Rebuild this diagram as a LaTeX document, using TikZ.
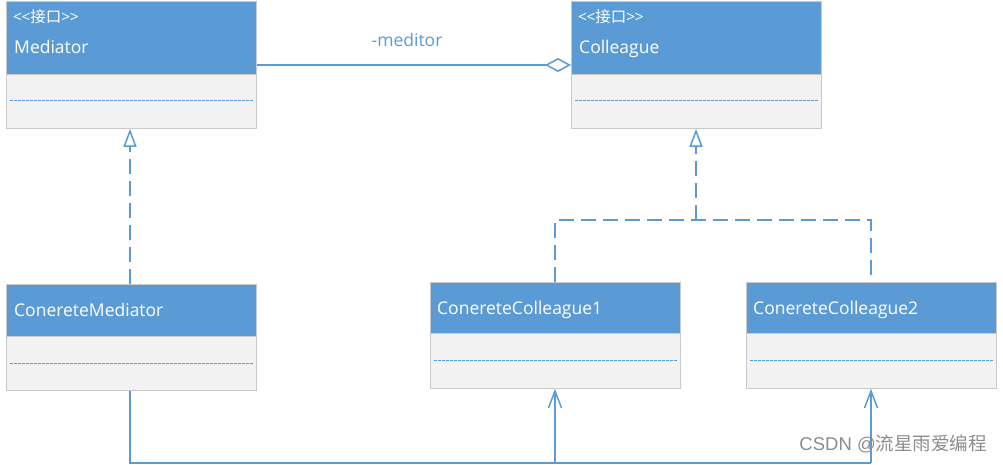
\documentclass[tikz,border=0pt]{standalone}
\usepackage{fontspec}
\setmainfont{Open Sans}[Ligatures=NoCommon]
\newfontfamily\cjk{Noto Sans CJK SC}
\newfontfamily\wm{Liberation Sans}
\usetikzlibrary{arrows.meta}
\definecolor{umlblue}{HTML}{5B9BD5}
\definecolor{bodygray}{HTML}{F2F2F2}
\definecolor{boxgray}{HTML}{C9C9C9}
\definecolor{wmgray}{HTML}{8C8C8C}
\tikzset{
  hdr/.style={draw=boxgray, fill=umlblue, minimum width=250pt, anchor=north west, inner sep=0pt, line width=0.8pt},
  bodybox/.style={draw=boxgray, fill=bodygray, minimum width=250pt, minimum height=54pt, anchor=north west, inner sep=0pt, line width=0.8pt},
  ttl/.style={anchor=base west, inner sep=0pt, text=white, font=\fontsize{17.5}{20}\selectfont},
  stereo/.style={anchor=base west, inner sep=0pt, text=white, font=\fontsize{15.5}{17}\selectfont},
  sep/.style={draw=umlblue, line width=1pt, dash pattern=on 2.5pt off 1.5pt},
  conn/.style={draw=umlblue, line width=1.5pt},
  dconn/.style={conn, dash pattern=on 15pt off 7pt},
  realize/.style={-{Triangle[open,length=18pt,width=13pt]}},
  navig/.style={-{Straight Barb[length=17pt,width=13pt]}},
}
\newcommand{\stlt}{{<}\kern-0.5pt{<}}
\newcommand{\stgt}{{>}\kern-0.5pt{>}}
\begin{document}
\begin{tikzpicture}[x=1pt,y=-1pt]
\useasboundingbox (0,0) rectangle (1003,465);
% Mediator
\node[hdr, minimum height=73pt] (medH) at (6,1) {};
\node[bodybox] (med) at (6,74) {};
\node[stereo] (medS) at (13,23) {\stlt{\cjk 接口}\stgt};
\node[ttl] (medT) at (14,54) {Mediator};
\draw[sep] ([xshift=4pt,yshift=-27pt]med.north west) -- ([xshift=-4pt,yshift=-27pt]med.north east);
% Colleague
\node[hdr, minimum height=73pt] (colH) at (571,1) {};
\node[bodybox] (col) at (571,74) {};
\node[stereo] (colS) at (578,23) {\stlt{\cjk 接口}\stgt};
\node[ttl] (colT) at (579,54) {Colleague};
\draw[sep] ([xshift=4pt,yshift=-27pt]col.north west) -- ([xshift=-4pt,yshift=-27pt]col.north east);
% ConereteMediator
\node[hdr, minimum height=52pt] (cmH) at (6,284) {};
\node[bodybox] (cm) at (6,336) {};
\node[ttl] (cmT) at (14,316) {ConereteMediator};
\draw[sep] ([xshift=4pt,yshift=-27pt]cm.north west) -- ([xshift=-4pt,yshift=-27pt]cm.north east);
% ConereteColleague1
\node[hdr, minimum height=51pt] (c1H) at (430,282) {};
\node[bodybox, minimum height=55pt] (c1) at (430,333) {};
\node[ttl] (c1T) at (437,314) {ConereteColleague1};
\draw[sep] ([xshift=4pt,yshift=-27pt]c1.north west) -- ([xshift=-4pt,yshift=-27pt]c1.north east);
% ConereteColleague2
\node[hdr, minimum height=51pt] (c2H) at (746,282) {};
\node[bodybox, minimum height=55pt] (c2) at (746,333) {};
\node[ttl] (c2T) at (753,314) {ConereteColleague2};
\draw[sep] ([xshift=4pt,yshift=-27pt]c2.north west) -- ([xshift=-4pt,yshift=-27pt]c2.north east);
% association
\draw[conn, -{Diamond[open,length=26pt,width=14pt]}] (medH.east |- 0,65) -- (colH.west |- 0,65);
\node[anchor=base, inner sep=0pt, text=umlblue, font=\fontsize{17.5}{20}\selectfont] (lbl) at (407,47) {-meditor};
% realization Mediator
\draw[dconn, realize] (cmH.north -| 130,0) -- (med.south -| 130,0);
% realization Colleagues
\coordinate (jn) at (696,220);
\draw[dconn, realize] (jn) -- (col.south -| jn);
\draw[dconn] (c1H.north -| 555,0) -- (555,220) -- (871,220) -- (c2H.north -| 871,0);
% navigation
\coordinate (b1) at (130,463);
\coordinate (b2) at (555,463);
\coordinate (b3) at (871,463);
\draw[conn] (cm.south -| b1) -- (b1) -- (b3);
\draw[conn, navig] (b2) -- (c1.south -| b2);
\draw[conn, navig] (b3) -- (c2.south -| b3);
% watermark
\node[anchor=base east, inner sep=0pt, text=wmgray, font=\fontsize{18.5}{20}\selectfont] (wmk) at (987,450) {{\wm CSDN @}{\cjk 流星雨爱编程}};
\end{tikzpicture}
\end{document}
